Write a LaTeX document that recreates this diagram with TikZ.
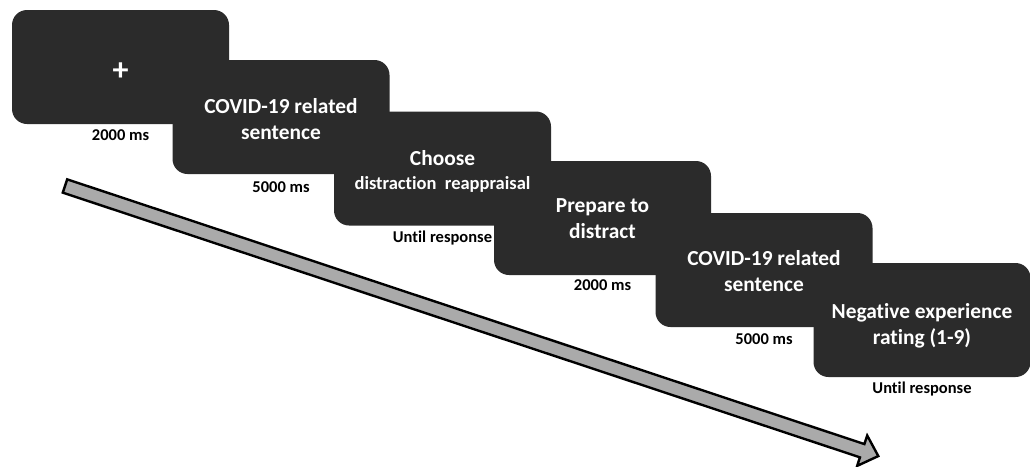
\documentclass[tikz,border=0pt]{standalone}
\usepackage{fontspec}
\setmainfont{Carlito}[Ligatures=NoCommon]
\definecolor{boxgray}{HTML}{2B2B2B}
\definecolor{arrgray}{HTML}{AAAAAA}
\begin{document}
\begin{tikzpicture}[x=1pt,y=-1pt,
  screen/.style={fill=boxgray, draw=none, rounded corners=15pt, minimum width=217pt, minimum height=114pt, inner sep=0pt},
  title/.style={text=white, font=\bfseries\fontsize{21.4}{26}\selectfont, align=center, inner sep=0pt},
  sub/.style={text=white, font=\bfseries\fontsize{18.5}{20}\selectfont, inner sep=0pt},
  dur/.style={text=black, font=\bfseries\fontsize{16.5}{18}\selectfont, inner sep=0pt}]
\useasboundingbox (0,0) rectangle (1030,466);
% arrow
\begin{scope}[shift={(65,186)}, rotate=-18.37]
\draw[fill=arrgray, line width=2.4pt, line join=miter] (0,-7) -- (840,-7) -- (840,-16) -- (857,0) -- (840,16) -- (840,7) -- (0,7) -- cycle;
\end{scope}
% screens
\node[screen] (b1) at (120.5,67) {};
\node[screen] (b2) at (281,117) {};
\node[screen] (b3) at (442.5,168.5) {};
\node[screen] (b4) at (602.5,218) {};
\node[screen] (b5) at (764,270) {};
\node[screen] (b6) at (922,320) {};
% texts
\node[text=white, font=\bfseries\fontsize{32}{32}\selectfont, inner sep=0pt] (t1) at ([yshift=-5pt]b1.center) {+};
\node[title] (t2) at ([yshift=-2pt]b2.center) {COVID-19 related\\sentence};
\node[title, anchor=base] (t3) at ([yshift=3pt]b3.center) {Choose};
\node[sub, anchor=base] (t3b) at ([yshift=-21pt]b3.center) {distraction\ \ reappraisal};
\node[title] (t4) at ([yshift=-1pt]b4.center) {Prepare to\\distract};
\node[title] (t5) at ([yshift=-1pt]b5.center) {COVID-19 related\\sentence};
\node[title] (t6) at ([yshift=-6pt]b6.center) {Negative experience\\rating (1-9)};
% durations
\node[dur] (d1) at ([yshift=-11pt]b1.south) {2000 ms};
\node[dur] (d2) at ([yshift=-13pt]b2.south) {5000 ms};
\node[dur] (d3) at ([yshift=-12pt]b3.south) {Until response};
\node[dur] (d4) at ([yshift=-10pt]b4.south) {2000 ms};
\node[dur] (d5) at ([yshift=-12pt]b5.south) {5000 ms};
\node[dur] (d6) at ([yshift=-12pt]b6.south) {Until response};
\end{tikzpicture}
\end{document}
